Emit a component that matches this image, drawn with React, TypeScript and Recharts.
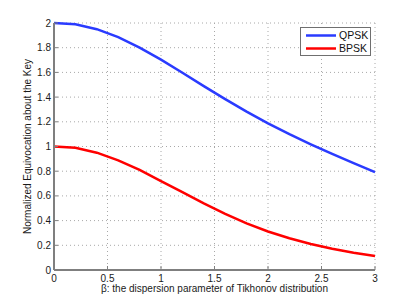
import { CartesianGrid, Line, LineChart, XAxis, YAxis } from "recharts";

const beta = [0, 0.2, 0.4, 0.6, 0.8, 1.0, 1.2, 1.4, 1.6, 1.8, 2.0, 2.2, 2.4, 2.6, 2.8, 3.0];
const qpsk = [2.0, 1.99, 1.95, 1.885, 1.8, 1.703, 1.597, 1.489, 1.384, 1.283, 1.188, 1.1, 1.018, 0.94, 0.865, 0.793];
const bpsk = [1.0, 0.99, 0.95, 0.888, 0.81, 0.72, 0.63, 0.54, 0.455, 0.378, 0.312, 0.257, 0.21, 0.172, 0.14, 0.113];

const xTicks = [0, 0.5, 1, 1.5, 2, 2.5, 3];
const yTicks = [0, 0.2, 0.4, 0.6, 0.8, 1, 1.2, 1.4, 1.6, 1.8, 2];

const series = [
  { key: "qpsk", name: "QPSK", color: "#2a3bff" },
  { key: "bpsk", name: "BPSK", color: "#ff0000" },
];

const data = beta.map((b, i) => ({ beta: b, qpsk: qpsk[i], bpsk: bpsk[i] }));

const font = "Liberation Sans, Arial, Helvetica, sans-serif";
const axisColor = "#7f7f7f";
const tickStyle = { fontSize: 10, fill: "#1a1a1a", fontFamily: font };

function LegendBox() {
  return (
    <div
      style={{
        position: "absolute",
        left: 300,
        top: 27,
        width: 71,
        height: 29,
        border: "1.5px solid #6f6f6f",
        background: "#fff",
        padding: "1px 0 0 5px",
        fontFamily: font,
        fontSize: 10.5,
        color: "#111",
        lineHeight: "13px",
        boxSizing: "border-box",
      }}
    >
      {series.map((s) => (
        <div key={s.key} style={{ display: "flex", alignItems: "center" }}>
          <svg width={30} height={13} style={{ marginRight: 3 }}>
            <line x1={0} x2={30} y1={6.5} y2={6.5} stroke={s.color} strokeWidth={2.5} />
          </svg>
          <span>{s.name}</span>
        </div>
      ))}
    </div>
  );
}

function YLabel(props: any) {
  const vb = props.viewBox;
  const cx = 31;
  const cy = vb.y + vb.height / 2;
  return (
    <text
      x={cx}
      y={cy}
      transform={`rotate(-90, ${cx}, ${cy})`}
      textAnchor="middle"
      fontSize={10}
      fontFamily={font}
      fill="#1a1a1a"
    >
      Normalized Equivocation about the Key
    </text>
  );
}

export default function App() {
  return (
    <div style={{ position: "absolute", left: 0, top: 0, width: 415, height: 304, background: "#fff" }}>
      <LineChart width={415} height={304} data={data} margin={{ top: 23, right: 40, left: 0, bottom: 0 }}>
        <CartesianGrid stroke="#a8a8a8" strokeDasharray="1 3" />
        <XAxis
          dataKey="beta"
          type="number"
          domain={[0, 3]}
          ticks={xTicks}
          height={34}
          tick={tickStyle}
          tickSize={-4}
          tickMargin={9}
          axisLine={{ stroke: axisColor, strokeWidth: 2 }}
          tickLine={{ stroke: axisColor }}
          label={{
            value: "β: the dispersion parameter of Tikhonov distribution",
            position: "insideBottom",
            offset: 12,
            style: { fontSize: 10, fill: "#1a1a1a", fontFamily: font },
          }}
        />
        <XAxis
          xAxisId="top"
          orientation="top"
          type="number"
          domain={[0, 3]}
          ticks={xTicks}
          height={0}
          tickSize={-4}
          tickFormatter={() => ""}
          axisLine={{ stroke: axisColor, strokeWidth: 2 }}
          tickLine={{ stroke: axisColor }}
        />
        <YAxis
          type="number"
          domain={[0, 2]}
          ticks={yTicks}
          width={54}
          tick={tickStyle}
          tickSize={-4}
          tickMargin={7}
          axisLine={{ stroke: axisColor, strokeWidth: 2 }}
          tickLine={{ stroke: axisColor }}
          label={{ content: YLabel }}
        />
        <YAxis
          yAxisId="right"
          orientation="right"
          type="number"
          domain={[0, 2]}
          ticks={yTicks}
          width={0}
          tickSize={-4}
          tickFormatter={() => ""}
          axisLine={{ stroke: axisColor, strokeWidth: 2 }}
          tickLine={{ stroke: axisColor }}
        />
        {series.map((s) => (
          <Line
            key={s.key}
            type="linear"
            dataKey={s.key}
            name={s.name}
            stroke={s.color}
            strokeWidth={2.5}
            dot={false}
            isAnimationActive={false}
          />
        ))}
      </LineChart>
      <LegendBox />
    </div>
  );
}
